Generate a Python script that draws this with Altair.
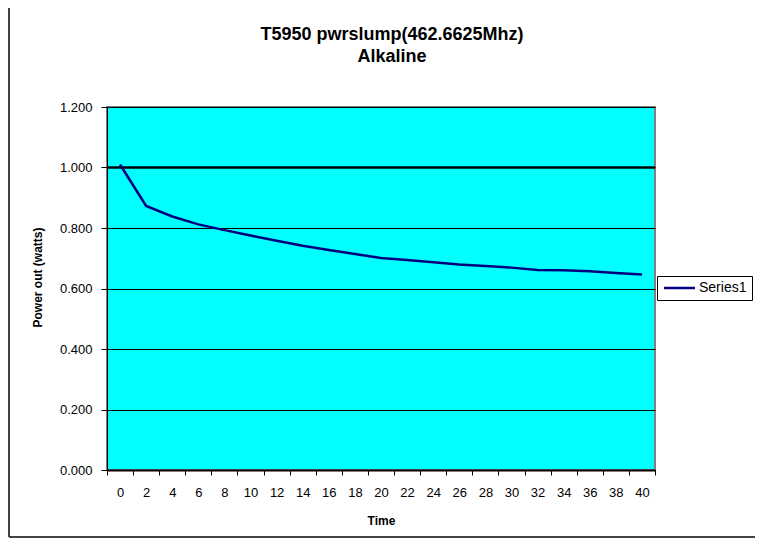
import altair as alt
import pandas as pd

# ---- data ----
times = list(range(0, 41, 2))
power = [1.010, 0.873, 0.838, 0.812, 0.793, 0.775, 0.758, 0.741, 0.727, 0.714,
         0.701, 0.694, 0.687, 0.679, 0.674, 0.669, 0.661, 0.660, 0.657, 0.651, 0.646]
series = ["Series1"] * len(times)
y_ticks = [0.0, 0.2, 0.4, 0.6, 0.8, 1.0, 1.2]
ref_level = [1.0]

FONT = "Liberation Sans"

df = pd.DataFrame({"Time": times, "Power": power, "Series": series})
ref_df = pd.DataFrame({"Power": ref_level})
one = pd.DataFrame({"a": [0]})

x_enc = alt.X(
    "Time:O",
    scale=alt.Scale(type="band", paddingInner=0, paddingOuter=0),
    axis=alt.Axis(
        title="Time", labelAngle=0, tickBand="extent", grid=False,
        domainColor="black", domainWidth=2, tickColor="black", tickSize=5,
        tickWidth=1, labelPadding=11, titlePadding=16,
    ),
)
y_enc = alt.Y(
    "Power:Q",
    scale=alt.Scale(domain=[0, 1.2], nice=False, zero=True),
    axis=alt.Axis(
        title="Power out (watts)", values=y_ticks, format=".3f", grid=True,
        gridColor="black", gridWidth=1, domainColor="black", domainWidth=1,
        tickColor="black", tickSize=6, labelPadding=9, titlePadding=15,
        titleY=170,
    ),
)

ref_rule = alt.Chart(ref_df).mark_rule(color="black", strokeWidth=2.5).encode(
    y=alt.Y("Power:Q", scale=alt.Scale(domain=[0, 1.2], nice=False))
)

line = alt.Chart(df).mark_line(strokeWidth=2.5).encode(
    x=x_enc,
    y=y_enc,
    color=alt.Color(
        "Series:N",
        scale=alt.Scale(range=["#000080"]),
        legend=alt.Legend(
            title=None, orient="none", legendX=550, legendY=169,
            strokeColor="black", fillColor="white", padding=5,
            symbolType="M-1,0H5.2", symbolSize=100, symbolStrokeWidth=2.5,
            labelFont=FONT, labelFontSize=14, labelColor="black",
            cornerRadius=0, labelOffset=23,
        ),
    ),
)

left_border = alt.Chart(one).mark_rule(color="#444444", strokeWidth=2).encode(
    x=alt.value(-98), y=alt.value(-99), y2=alt.value(430)
)
bottom_border = alt.Chart(one).mark_rule(color="#444444", strokeWidth=2).encode(
    x=alt.value(-98), x2=alt.value(660), y=alt.value(430)
)

chart = alt.layer(ref_rule, line, left_border, bottom_border).properties(
    width=548,
    height=363,
    autosize=alt.AutoSizeParams(type="none"),
    padding={"left": 99, "top": 99, "right": 100, "bottom": 68},
    title=alt.Title(
        ["T5950 pwrslump(462.6625Mhz)", "Alkaline"],
        font=FONT, fontSize=18, fontWeight="bold", color="black",
        anchor="middle", frame="group", dx=11, dy=59, offset=0, lineHeight=22,
    ),
).configure_view(
    fill="#00FFFF", stroke="#808080", strokeWidth=2
).configure_axis(
    labelFont=FONT, labelFontSize=13, labelColor="black",
    titleFont=FONT, titleFontSize=12, titleFontWeight="bold", titleColor="black",
)

chart.save("out.html", embed_options={"renderer": "svg", "actions": False})
